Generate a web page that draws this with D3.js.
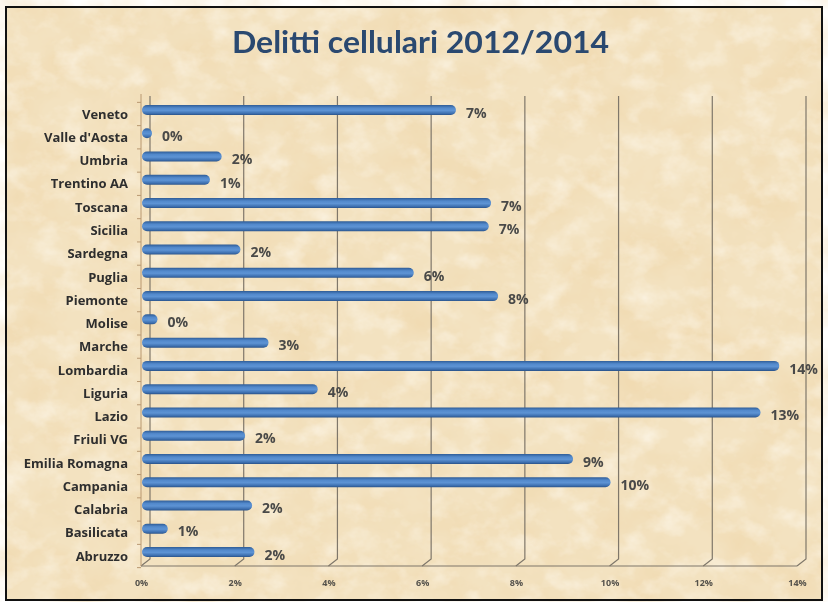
<!DOCTYPE html>
<html>
<head>
<meta charset="utf-8">
<script src="https://cdn.jsdelivr.net/npm/d3@7"></script>
<style>
  html, body { margin: 0; padding: 0; background: #ffffff; }
  svg { display: block; }
</style>
</head>
<body>
<svg id="chart" width="828" height="602"></svg>
<script>
// Regions, listed top to bottom as shown on the chart
const categories = [
  "Veneto", "Valle d'Aosta", "Umbria", "Trentino AA", "Toscana", "Sicilia",
  "Sardegna", "Puglia", "Piemonte", "Molise", "Marche", "Lombardia", "Liguria",
  "Lazio", "Friuli VG", "Emilia Romagna", "Campania", "Calabria", "Basilicata", "Abruzzo"
];
// Share of mobile-phone crimes per region (percent)
const values = [
  6.7, 0.2, 1.7, 1.45, 7.45, 7.4,
  2.1, 5.8, 7.6, 0.33, 2.7, 13.6, 3.75,
  13.2, 2.2, 9.2, 10.0, 2.35, 0.55, 2.4
];
const tickValues = [0, 2, 4, 6, 8, 10, 12, 14];
const titleText = "Delitti cellulari 2012/2014";

const svg = d3.select("#chart");
const defs = svg.append("defs");

// Parchment texture: broad warm mottling plus fine grain
const f1 = defs.append("filter").attr("id", "parch").attr("x", 0).attr("y", 0)
  .attr("width", "100%").attr("height", "100%").attr("filterUnits", "userSpaceOnUse");
f1.append("feTurbulence").attr("type", "fractalNoise").attr("baseFrequency", "0.018 0.022")
  .attr("numOctaves", 5).attr("seed", 7).attr("result", "n");
f1.append("feColorMatrix").attr("type", "matrix")
  .attr("values", "0 0 0 0 0.86  0 0 0 0 0.66  0 0 0 0 0.38  1.1 0 0 0 -0.42");

const f2 = defs.append("filter").attr("id", "parchLight").attr("x", 0).attr("y", 0)
  .attr("width", "100%").attr("height", "100%").attr("filterUnits", "userSpaceOnUse");
f2.append("feTurbulence").attr("type", "fractalNoise").attr("baseFrequency", "0.035 0.045")
  .attr("numOctaves", 4).attr("seed", 21).attr("result", "n");
f2.append("feColorMatrix").attr("type", "matrix")
  .attr("values", "0 0 0 0 1  0 0 0 0 0.97  0 0 0 0 0.90  1.2 0 0 0 -0.55");

const textBlur = defs.append("filter").attr("id", "soft");
textBlur.append("feGaussianBlur").attr("stdDeviation", 0.4);

// Cylinder-like shading for the bars
const grad = defs.append("linearGradient").attr("id", "barGrad")
  .attr("x1", 0).attr("y1", 0).attr("x2", 0).attr("y2", 1);
[["0%", "#2f5c96"], ["30%", "#5289cc"], ["55%", "#5d93d4"], ["85%", "#3c6eae"], ["100%", "#2a5288"]]
  .forEach(([o, c]) => grad.append("stop").attr("offset", o).attr("stop-color", c));

// Background
svg.append("rect").attr("x", 6).attr("y", 7).attr("width", 816).attr("height", 593)
  .attr("fill", "#f3e2c0");
svg.append("rect").attr("x", 6).attr("y", 7).attr("width", 816).attr("height", 593)
  .attr("filter", "url(#parch)");
svg.append("rect").attr("x", 6).attr("y", 7).attr("width", 816).attr("height", 593)
  .attr("filter", "url(#parchLight)");
svg.append("rect").attr("x", 6).attr("y", 7).attr("width", 816).attr("height", 593)
  .attr("fill", "none").attr("stroke", "#111").attr("stroke-width", 2);

// Scales: front plane (floor edge, tick labels), bars, back wall offset
const xFront = d3.scaleLinear().domain([0, 14]).range([141, 797]);
const xBar = d3.scaleLinear().domain([0, 14]).range([142, 798]);
const depthX = 9, depthY = 7;
const wallTop = 96, wallBottom = 559, floorY = wallBottom + depthY;
const y = d3.scalePoint().domain(categories).range([110, 552]);

// Title
svg.append("text")
  .attr("x", 420.5).attr("y", 53)
  .attr("text-anchor", "middle")
  .attr("font-family", "Lato, 'Open Sans', sans-serif")
  .attr("font-weight", 700).attr("font-size", 30)
  .attr("textLength", 377).attr("lengthAdjust", "spacingAndGlyphs")
  .attr("fill", "#2a4870")
  .attr("filter", "url(#soft)")
  .text(titleText);

// Back-wall gridlines bending onto the floor
const grid = svg.append("g").attr("fill", "none").attr("stroke", "#7f776a").attr("stroke-width", 1.2);
grid.selectAll("path").data(tickValues).join("path")
  .attr("d", d => `M${xFront(d) + depthX},${wallTop} L${xFront(d) + depthX},${wallBottom} L${xFront(d)},${floorY}`);
grid.append("path")
  .attr("d", `M${xFront(0)},${floorY} L${xFront(14)},${floorY}`);

// Category axis line with small ticks
const yStep = y.step();
const catAxis = svg.append("g").attr("stroke", "#b99871").attr("stroke-width", 1).attr("fill", "none");
catAxis.append("path").attr("d", `M${xFront(0)},${wallTop - 2} L${xFront(0)},${floorY}`);
catAxis.selectAll("line").data(d3.range(categories.length + 1)).join("line")
  .attr("x1", xFront(0) - 4).attr("x2", xFront(0))
  .attr("y1", i => y(categories[0]) - yStep / 2 + i * yStep + 4)
  .attr("y2", i => y(categories[0]) - yStep / 2 + i * yStep + 4);

// Bars
const barH = 10;
svg.append("g").selectAll("rect").data(values).join("rect")
  .attr("x", xBar(0))
  .attr("y", (d, i) => y(categories[i]) - barH / 2)
  .attr("width", d => Math.max(xBar(d) - xBar(0), barH))
  .attr("height", barH)
  .attr("rx", 5).attr("ry", 5)
  .attr("fill", "url(#barGrad)");

// Value labels
svg.append("g").selectAll("text").data(values).join("text")
  .attr("x", d => Math.max(xBar(d), xBar(0) + barH) + 10)
  .attr("y", (d, i) => y(categories[i]) + 4)
  .attr("dominant-baseline", "middle")
  .attr("font-family", "'Open Sans', sans-serif")
  .attr("font-weight", 700).attr("font-size", 14)
  .attr("fill", "#4a4a48")
  .attr("filter", "url(#soft)")
  .text(d => Math.round(d) + "%");

// Category labels
const yAxis = svg.append("g")
  .attr("transform", `translate(${128},4)`)
  .call(d3.axisLeft(y).tickSize(0).tickPadding(0));
yAxis.select(".domain").remove();
yAxis.selectAll("text")
  .attr("font-family", "'Open Sans', sans-serif")
  .attr("font-weight", 700).attr("font-size", 13)
  .attr("fill", "#2e2e2e")
  .attr("filter", "url(#soft)");

// Value axis tick labels
const xAxis = svg.append("g")
  .attr("transform", `translate(0,${floorY + 10})`)
  .call(d3.axisBottom(xFront).tickValues(tickValues).tickSize(0).tickPadding(4)
    .tickFormat(d => d + "%"));
xAxis.select(".domain").remove();
xAxis.selectAll("text")
  .attr("font-family", "'Open Sans', sans-serif")
  .attr("font-weight", 700).attr("font-size", 9)
  .attr("fill", "#55524c")
  .attr("filter", "url(#soft)");
</script>
</body>
</html>
